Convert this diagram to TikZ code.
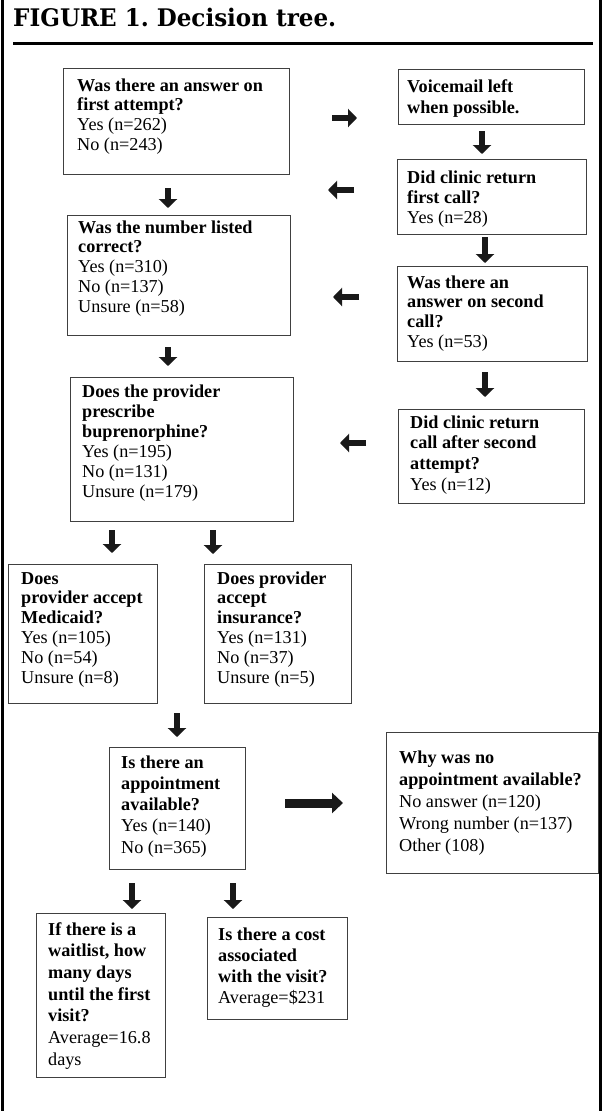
\documentclass[tikz,border=0pt]{standalone}
\usepackage{graphicx}
\usepackage{fontspec}
\setmainfont{Liberation Serif}
\newfontfamily\titlefont{DejaVu Serif}
\usetikzlibrary{arrows.meta,fit}
\newcommand{\boxlines}[2]{{\renewcommand{\arraystretch}{#1}\begin{tabular}[t]{@{}l@{}}#2\end{tabular}}}
\frenchspacing
\begin{document}
\begin{tikzpicture}[x=1pt,y=-1pt,
  box/.style={draw=black!75, line width=1pt, inner sep=0pt},
  txt/.style={inner sep=0pt, anchor=base west, font=\fontsize{18.2}{20}\selectfont},
  arrsmall/.style={draw=black!90, line width=6.5pt, -{Triangle[length=9pt,width=18pt]}},
  arrbig/.style={draw=black!90, line width=9pt, -{Triangle[length=11pt,width=20pt]}},
  frameline/.style={draw=black, line width=2.5pt},
  rule/.style={draw=black, line width=3.5pt}]
\useasboundingbox (0,0) rectangle (603,1111);
% frame and title
\draw[frameline] (2.5,0) -- (2.5,1111);
\draw[frameline] (600.5,0) -- (600.5,1111);
\node[inner sep=0pt, anchor=base west] (title) at (13,26.7)
  {\resizebox{323pt}{18.4pt}{\titlefont\bfseries FIGURE 1. Decision tree.}};
\draw[rule] (13,43.5) -- (593,43.5);
% boxes
\node[box, fit={(63,68) (289,174)}] (b1) {};
\node[txt] (b1t) at (77,91) {\boxlines{0.985}{\textbf{Was there an answer on}\\ \textbf{first attempt?}\\ Yes (n=262)\\ No (n=243)}};
\node[box, fit={(398,69) (584,124)}] (b2) {};
\node[txt] (b2t) at (407,92) {\boxlines{1.05}{\textbf{Voicemail left}\\ \textbf{when possible.}}};
\node[box, fit={(397,159) (586,234)}] (b3) {};
\node[txt] (b3t) at (407,183) {\boxlines{1.0}{\textbf{Did clinic return}\\ \textbf{first call?}\\ Yes (n=28)}};
\node[box, fit={(67,215) (290,335)}] (b4) {};
\node[txt] (b4t) at (78,233) {\boxlines{0.99}{\textbf{Was the number listed}\\ \textbf{correct?}\\ Yes (n=310)\\ No (n=137)\\ Unsure (n=58)}};
\node[box, fit={(397,266) (587,361)}] (b5) {};
\node[txt] (b5t) at (407,288) {\boxlines{0.985}{\textbf{Was there an}\\ \textbf{answer on second}\\ \textbf{call?}\\ Yes (n=53)}};
\node[box, fit={(70,377) (293,521)}] (b6) {};
\node[txt] (b6t) at (82,397) {\boxlines{1.0}{\textbf{Does the provider}\\ \textbf{prescribe}\\ \textbf{buprenorphine?}\\ Yes (n=195)\\ No (n=131)\\ Unsure (n=179)}};
\node[box, fit={(398,409) (584,503)}] (b7) {};
\node[txt] (b7t) at (410,428) {\boxlines{1.035}{\textbf{Did clinic return}\\ \textbf{call after second}\\ \textbf{attempt?}\\ Yes (n=12)}};
\node[box, fit={(8,564) (157,703)}] (b8) {};
\node[txt] (b8t) at (21,584) {\boxlines{0.99}{\textbf{Does}\\ \textbf{provider accept}\\ \textbf{Medicaid?}\\ Yes (n=105)\\ No (n=54)\\ Unsure (n=8)}};
\node[box, fit={(204,564) (351,703)}] (b9) {};
\node[txt] (b9t) at (217,584) {\boxlines{0.99}{\textbf{Does provider}\\ \textbf{accept}\\ \textbf{insurance?}\\ Yes (n=131)\\ No (n=37)\\ Unsure (n=5)}};
\node[box, fit={(109,747) (245,869)}] (b10) {};
\node[txt] (b10t) at (121,768) {\boxlines{1.0625}{\textbf{Is there an}\\ \textbf{appointment}\\ \textbf{available?}\\ Yes (n=140)\\ No (n=365)}};
\node[box, fit={(386,732) (598,873)}] (b11) {};
\node[txt] (b11t) at (399,763) {\boxlines{1.1}{\textbf{Why was no}\\ \textbf{appointment available?}\\ No answer (n=120)\\ Wrong number (n=137)\\ Other (108)}};
\node[box, fit={(36,913) (165,1077)}] (b12) {};
\node[txt] (b12t) at (48,935) {\boxlines{1.085}{\textbf{If there is a}\\ \textbf{waitlist, how}\\ \textbf{many days}\\ \textbf{until the first}\\ \textbf{visit?}\\ Average=16.8\\ days}};
\node[box, fit={(207,917) (347,1019)}] (b13) {};
\node[txt] (b13t) at (218,940) {\boxlines{1.065}{\textbf{Is there a cost}\\ \textbf{associated}\\ \textbf{with the visit?}\\ Average=\$231}};
% arrow end points
\coordinate (a1s) at (168,188);  \coordinate (a1e) at (168,208);
\coordinate (a2s) at (332,118);  \coordinate (a2e) at (357,118);
\coordinate (a3s) at (482,131);  \coordinate (a3e) at (482,154);
\coordinate (a4s) at (354,190);  \coordinate (a4e) at (328,190);
\coordinate (a5s) at (485,237);  \coordinate (a5e) at (485,263);
\coordinate (a6s) at (359,297);  \coordinate (a6e) at (333,297);
\coordinate (a7s) at (168,347);  \coordinate (a7e) at (168,366);
\coordinate (a8s) at (485,372);  \coordinate (a8e) at (485,397);
\coordinate (a9s) at (366,443);  \coordinate (a9e) at (340,443);
\coordinate (a10s) at (112,530); \coordinate (a10e) at (112,553);
\coordinate (a11s) at (213,530); \coordinate (a11e) at (213,554);
\coordinate (a12s) at (177,713); \coordinate (a12e) at (177,737);
\coordinate (a13s) at (285,803); \coordinate (a13e) at (343,803);
\coordinate (a14s) at (132,883); \coordinate (a14e) at (132,909);
\coordinate (a15s) at (233,883); \coordinate (a15e) at (233,909);
% arrows
\draw[arrsmall] (a1s) -- (a1e);
\draw[arrsmall] (a2s) -- (a2e);
\draw[arrsmall] (a3s) -- (a3e);
\draw[arrsmall] (a4s) -- (a4e);
\draw[arrsmall] (a5s) -- (a5e);
\draw[arrsmall] (a6s) -- (a6e);
\draw[arrsmall] (a7s) -- (a7e);
\draw[arrsmall] (a8s) -- (a8e);
\draw[arrsmall] (a9s) -- (a9e);
\draw[arrsmall] (a10s) -- (a10e);
\draw[arrsmall] (a11s) -- (a11e);
\draw[arrsmall] (a12s) -- (a12e);
\draw[arrbig] (a13s) -- (a13e);
\draw[arrsmall] (a14s) -- (a14e);
\draw[arrsmall] (a15s) -- (a15e);
\end{tikzpicture}
\end{document}
